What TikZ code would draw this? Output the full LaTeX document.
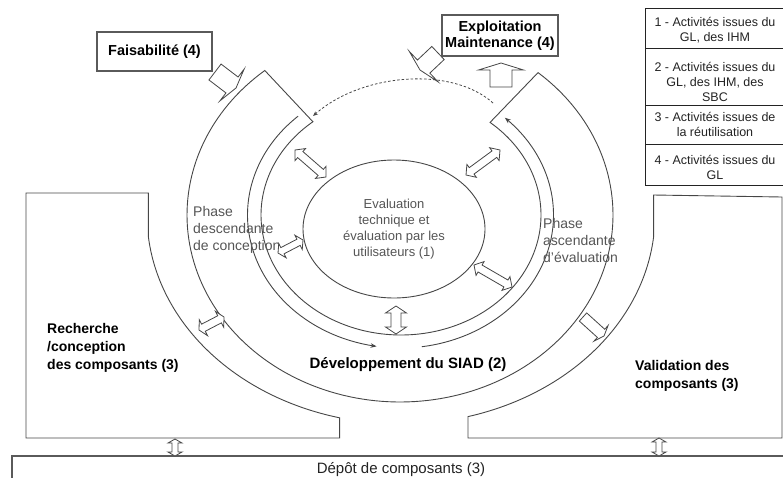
\documentclass[tikz,border=0pt]{standalone}
\usepackage{fontspec}
\setmainfont{Liberation Sans}
\usetikzlibrary{calc,arrows.meta,shapes.geometric}
\definecolor{ln}{RGB}{70,70,70}
\definecolor{bx}{RGB}{90,90,90}
\definecolor{tg}{RGB}{85,85,85}
\definecolor{tk}{RGB}{35,35,35}
% single block arrow: tail #1, tip #2, shaft half width #3, head half width #4, head length #5
\newcommand{\blkarrow}[5]{%
  \coordinate (bp) at ($(#2)!#5!(#1)$);
  \draw[blk] ($(#1)!#3!90:(#2)$) -- ($(bp)!#3!-90:(#1)$) -- ($(bp)!#4!-90:(#1)$) -- (#2)
    -- ($(bp)!#4!90:(#1)$) -- ($(bp)!#3!90:(#1)$) -- ($(#1)!#3!-90:(#2)$) -- cycle;}
% double block arrow
\newcommand{\blkdarrow}[5]{%
  \coordinate (dpa) at ($(#1)!#5!(#2)$);
  \coordinate (dpb) at ($(#2)!#5!(#1)$);
  \draw[blk] (#1) -- ($(dpa)!#4!-90:(#1)$) -- ($(dpa)!#3!-90:(#1)$) -- ($(dpb)!#3!90:(#2)$)
    -- ($(dpb)!#4!90:(#2)$) -- (#2) -- ($(dpb)!#4!-90:(#2)$) -- ($(dpb)!#3!-90:(#2)$)
    -- ($(dpa)!#3!90:(#1)$) -- ($(dpa)!#4!90:(#1)$) -- cycle;}
\begin{document}
\begin{tikzpicture}[x=1pt,y=-1pt,
  ln/.style={draw=ln,line width=0.9pt},
  blk/.style={draw=ln,line width=0.8pt,fill=white,line join=miter},
  boxst/.style={draw=bx,line width=1.4pt,inner sep=0pt,text=black,
    font=\fontsize{14.5}{16.5}\selectfont\bfseries,align=center},
  legbox/.style={draw=tk,line width=1.1pt,inner sep=0pt,minimum width=137.5pt,anchor=north west},
  legtxt/.style={text=tk,font=\fontsize{12.5}{15}\selectfont,align=center,inner sep=0pt},
  phasetxt/.style={text=tg,font=\fontsize{14}{17}\selectfont,align=left,inner sep=0pt,anchor=west},
  boldtxt/.style={text=black,font=\fontsize{14}{18}\selectfont\bfseries,align=left,inner sep=0pt,anchor=west},
  arcarrow/.style={ln,-{Stealth[length=6pt,width=4.5pt]}}
]
\useasboundingbox (0,0) rectangle (783,477);
\clip (0,0) rectangle (783,477);

% ---------- side panels ----------
\draw[ln] (148.4,193) -- (26,193) -- (26,438) -- (339.6,438)
  -- plot[domain=104:174,samples=80] ({401+254*cos(\x)},{215+209*sin(\x)}) -- cycle;
\draw[ln] (653.6,195) -- plot[domain=6:74.7,samples=80] ({401+254*cos(\x)},{215+209*sin(\x)})
  -- (468,438) -- (782,438) -- (782,197) -- cycle;

% ---------- development band ----------
\draw[ln] plot[domain=230.6:-49.6,samples=160] ({400+213*cos(\x)},{215+187*sin(\x)})
  -- plot[domain=-50.5:231,samples=160] ({401+140*cos(\x)},{215+120*sin(\x)}) -- cycle;

% cycle arrows inside the band
\draw[arcarrow] plot[domain=228:99,samples=120] ({400.5+153*cos(\x)},{215+133*sin(\x)});
\draw[arcarrow] plot[domain=82:-47,samples=120] ({400.5+153*cos(\x)},{215+133*sin(\x)});

% dashed return arc
\coordinate (dsA) at (493,103);
\coordinate (dsB) at (313,116);
\draw[ln,line width=0.8pt,dash pattern=on 2.5pt off 2pt,-{Stealth[length=5pt,width=4pt]}]
  (dsA) .. controls (452,66) and (362,73) .. (dsB);

% ---------- central ellipse ----------
\node[ellipse,draw=ln,line width=0.9pt,minimum width=182pt,minimum height=138pt,inner sep=0pt,
  text=tg,font=\fontsize{13}{16}\selectfont,align=center] (eval) at (394,229)
  {Evaluation\\technique et\\évaluation par les\\utilisateurs (1)};

% ---------- boxes ----------
\node[boxst,minimum width=115pt,minimum height=39pt] (fais) at (154.5,51.5) {Faisabilité (4)};
\node[boxst,minimum width=116pt,minimum height=41pt] (expl) at (500,35.5) {Exploitation\\Maintenance (4)};

% legend
\node[legbox,minimum height=40pt] (lg1) at (645,8) {};
\node[legbox,minimum height=57pt] (lg2) at (645,48) {};
\node[legbox,minimum height=39pt] (lg3) at (645,105) {};
\node[legbox,minimum height=41pt] (lg4) at (645,144) {};
\node[legtxt] (lt1) at (715,30.5) {1 - Activités issues du\\GL, des IHM};
\node[legtxt] (lt2) at (715,82) {2 - Activités issues du\\GL, des IHM, des\\SBC};
\node[legtxt] (lt3) at (715,124.5) {3 - Activités issues de\\la réutilisation};
\node[legtxt] (lt4) at (715,167.5) {4 - Activités issues du\\GL};

% depot box
\draw[draw=bx,line width=1.3pt] (12,490) -- (12,456) -- (790,456);
\node[text=tk,font=\fontsize{15}{17}\selectfont,inner sep=0pt] (depot) at (401,470) {Dépôt de composants (3)};

% ---------- texts ----------
\node[phasetxt] (phd) at (193,230) {Phase\\descendante\\de conception};
\node[phasetxt] (pha) at (543,240) {Phase\\ascendante\\d'évaluation};
\node[boldtxt] (rech) at (47,348) {Recherche\\/conception\\des composants (3)};
\node[boldtxt] (valid) at (635,376) {Validation des\\composants (3)};
\node[text=black,font=\fontsize{15}{17}\selectfont\bfseries,inner sep=0pt] (dev) at (408,365) {Développement du SIAD (2)};

% ---------- block arrows ----------
\coordinate (fa1) at (215,72);   \coordinate (fa2) at (236,88);
\blkarrow{fa1}{fa2}{10pt}{20pt}{5pt}
\coordinate (ex1) at (438,53);   \coordinate (ex2) at (420,70);
\blkarrow{ex1}{ex2}{9pt}{21pt}{5pt}
\coordinate (up1) at (501,87);   \coordinate (up2) at (501,63);
\blkarrow{up1}{up2}{11pt}{22.5pt}{7pt}
\coordinate (va1) at (583,317);  \coordinate (va2) at (604,336);
\blkarrow{va1}{va2}{5.5pt}{10.5pt}{4pt}

\coordinate (ul1) at (295,150);  \coordinate (ul2) at (326,177);
\blkdarrow{ul1}{ul2}{4pt}{8pt}{7pt}
\coordinate (ur1) at (466,175);  \coordinate (ur2) at (500,150);
\blkdarrow{ur1}{ur2}{4pt}{8pt}{7pt}
\coordinate (lf1) at (278,253);  \coordinate (lf2) at (303,240);
\blkdarrow{lf1}{lf2}{3.5pt}{8pt}{5pt}
\coordinate (lr1) at (474,265);  \coordinate (lr2) at (512,287);
\blkdarrow{lr1}{lr2}{4pt}{8pt}{7pt}
\coordinate (bt1) at (396,306);  \coordinate (bt2) at (396,334);
\blkdarrow{bt1}{bt2}{5pt}{10.5pt}{7pt}
\coordinate (ll1) at (199,330);  \coordinate (ll2) at (224,317);
\blkdarrow{ll1}{ll2}{4pt}{9pt}{5pt}
\coordinate (dl1) at (175,439);  \coordinate (dl2) at (175,456);
\blkdarrow{dl1}{dl2}{3pt}{7pt}{4pt}
\coordinate (dr1) at (659,438);  \coordinate (dr2) at (659,456);
\blkdarrow{dr1}{dr2}{3pt}{7pt}{4pt}
\end{tikzpicture}
\end{document}
